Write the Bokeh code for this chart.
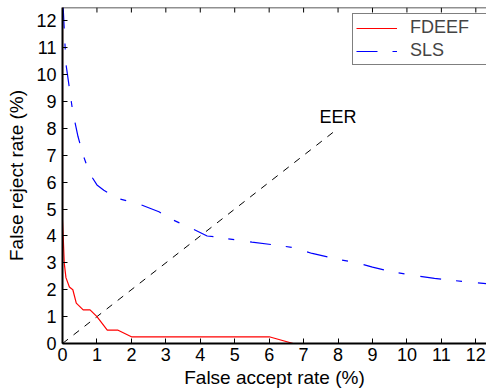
from bokeh.plotting import figure
from bokeh.models import Range1d, FixedTicker, Legend, LegendItem, Label, Span
from bokeh.embed import file_html
from bokeh.resources import INLINE

# FDEEF curve (false accept %, false reject %)
fdeef_far = [0.0, 0.0, 0.02, 0.05, 0.1, 0.2, 0.3, 0.4, 0.6, 0.8, 1.0, 1.3, 1.6, 2.0, 6.0, 6.7, 12.5]
fdeef_frr = [12.5, 4.6, 4.0, 3.0, 2.45, 2.1, 2.0, 1.5, 1.25, 1.25, 1.0, 0.5, 0.5, 0.25, 0.25, 0.0, 0.0]

# SLS curve
sls_far = [0.02, 0.1, 0.2, 0.3, 0.45, 0.6, 0.8, 1.0, 1.2, 1.6, 2.2, 2.8, 3.2, 3.8, 4.2, 4.4,
           5.0, 5.5, 6.2, 6.7, 7.25, 8.0, 8.5, 9.0, 9.6, 10.2, 10.8, 11.3, 12.3, 12.5]
sls_frr = [12.5, 10.4, 9.5, 8.6, 7.7, 7.0, 6.3, 5.9, 5.7, 5.4, 5.2, 4.9, 4.6, 4.25, 4.0, 3.97,
           3.86, 3.77, 3.66, 3.57, 3.35, 3.13, 3.02, 2.84, 2.66, 2.53, 2.42, 2.35, 2.23, 2.2]

# EER reference diagonal
eer_x = [0, 8]
eer_y = [0, 8]
eer_label = "EER"
eer_label_pos = (8.0, 8.43)

x_ticks = list(range(0, 13))
y_ticks = list(range(0, 13))
x_label = "False accept rate (%)"
y_label = "False reject rate (%)"
series_names = ["FDEEF", "SLS"]

FONT = "Liberation Sans"
X_MAX, Y_MAX = 12.31, 12.5
H, B_TOP, B_BOT = 392, 7, 49

p = figure(width=486, height=H, output_backend="svg", toolbar_location=None,
           x_range=Range1d(0, X_MAX), y_range=Range1d(0, Y_MAX),
           min_border_left=62, min_border_right=0, min_border_top=B_TOP, min_border_bottom=B_BOT,
           x_axis_label=x_label, y_axis_label=y_label)
p.outline_line_color = None
p.grid.visible = False
p.background_fill_color = "white"
p.border_fill_color = "white"

for ax in (p.xaxis[0], p.yaxis[0]):
    ax.ticker = FixedTicker(ticks=x_ticks if ax is p.xaxis[0] else y_ticks)
    ax.minor_tick_line_color = None
    ax.major_tick_in = 5
    ax.major_tick_out = 0
    ax.axis_line_color = "black"
    ax.axis_line_width = 2
    ax.major_tick_line_color = "black"
    ax.major_label_text_font = FONT
    ax.major_label_text_font_size = "18px"
    ax.major_label_text_color = "black"
    ax.axis_label_text_font = FONT
    ax.axis_label_text_font_size = "19px"
    ax.axis_label_text_font_style = "normal"
    ax.axis_label_text_color = "black"

p.xaxis[0].major_label_standoff = 4
p.xaxis[0].axis_label_standoff = 3
p.yaxis[0].major_label_standoff = 6
p.yaxis[0].axis_label_standoff = 6

# top box edge with inward ticks
p.add_layout(Span(location=Y_MAX, dimension="width", line_color="#222222", line_width=1.5))
tick_len = 5 * Y_MAX / (H - B_TOP - B_BOT)
p.segment(x0=x_ticks, x1=x_ticks, y0=[Y_MAX] * len(x_ticks), y1=[Y_MAX - tick_len] * len(x_ticks),
          line_color="black", line_width=1)

eer = p.line(eer_x, eer_y, line_color="black", line_width=1, line_dash="7 7")
r1 = p.line(fdeef_far, fdeef_frr, line_color="#ff0000", line_width=1.2)
r2 = p.line(sls_far, sls_frr, line_color="#0000ff", line_width=1.2, line_dash="21 15 6 16")

p.add_layout(Label(x=eer_label_pos[0], y=eer_label_pos[1], text=eer_label, text_align="center",
                   text_baseline="middle", text_font=FONT, text_font_size="18px",
                   text_color="black"))

legend = Legend(items=[LegendItem(label=series_names[0], renderers=[r1]),
                       LegendItem(label=series_names[1], renderers=[r2])],
                location=(290, 278), padding=3, spacing=2, margin=0,
                glyph_width=41, glyph_height=20, label_height=20, label_width=120,
                label_standoff=13, label_text_font=FONT, label_text_font_size="18px",
                border_line_color="black", border_line_width=1.5,
                background_fill_color="white", background_fill_alpha=1.0)
p.add_layout(legend)

open("out.html", "w").write(file_html(p, INLINE))
